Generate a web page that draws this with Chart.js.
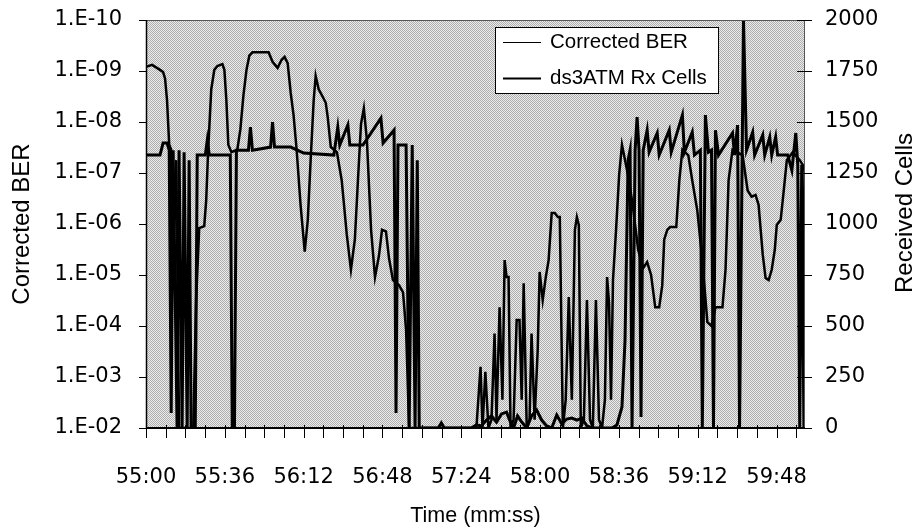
<!DOCTYPE html>
<html><head><meta charset="utf-8">
<script src="https://cdn.jsdelivr.net/npm/chart.js@4.4.1/dist/chart.umd.min.js"></script>
<style>html,body{margin:0;padding:0;background:#fff;}#wrap{width:921px;height:531px;}</style>
</head><body><div id="wrap"><canvas id="c" width="921" height="531" style="width:921px;height:531px"></canvas></div>
<script>
// ---- data (seconds after 55:00) ----
const timeLabels = ['55:00','55:36','56:12','56:48','57:24','58:00','58:36','59:12','59:48'];
const berTickValues = [1e-10,1e-9,1e-8,1e-7,1e-6,1e-5,1e-4,1e-3,1e-2];
const berTickLabels = ['1.E-10','1.E-09','1.E-08','1.E-07','1.E-06','1.E-05','1.E-04','1.E-03','1.E-02'];
const cellTickValues = [0,250,500,750,1000,1250,1500,1750,2000];
const seriesNames = ['Corrected BER','ds3ATM Rx Cells'];
const axisTitles = ['Corrected BER','Received Cells','Time (mm:ss)'];

const berTime = [0,2.8,6.4,7.8,8.7,9.6,10.6,11.5,11.9,13.8,15.1,21.6,22.9,24.3,26.6,27.5,28.4,29.8,31.2,32.6,34.9,35.8,36.7,37.6,39.0,41.7,43.1,44.5,45.9,47.2,48.6,56.0,57.8,60.1,61.9,63.3,64.7,66.1,67.4,68.8,70.6,72.5,73.9,75.2,76.6,77.5,78.9,80.7,82.1,83.0,84.4,87.2,89.4,91.7,93.6,95.4,96.8,98.2,99.5,100.9,102.8,104.6,106.4,107.8,109.6,111.0,112.8,115.6,117.4,118.8,120.2,150.9,152.8,153.7,155.0,156.4,157.8,159.2,160.1,161.5,162.8,163.8,164.7,165.6,166.5,167.9,169.3,170.6,171.6,172.5,173.9,175.2,176.1,177.5,178.9,179.8,181.2,182.6,183.9,185.3,186.7,188.1,189.0,190.4,191.7,193.1,194.5,195.9,196.8,197.7,198.6,200.0,201.4,202.8,204.1,205.5,206.9,208.3,209.6,210.6,211.5,212.4,213.3,214.7,216.1,217.4,219.7,222.0,224.8,227.1,228.9,230.7,232.6,234.4,235.8,236.7,238.1,239.4,242.2,243.6,245.0,247.7,249.5,251.8,254.1,256.4,258.3,260.1,263.3,264.7,266.1,267.9,272.5,274.8,276.6,278.4,279.8,281.7,283.0,284.4,285.8,287.2,288.1,289.9,291.3,292.7,295.4,298.6,300.0,301];
const berValue = [8.3e-10,7.6e-10,9.5e-10,1.05e-9,1.4e-9,3.7e-9,2.8e-8,3.5e-8,1.95e-5,5.6e-8,1e-2,1e-2,3.1e-5,1.2e-6,1.1e-6,3.4e-7,3.5e-8,2.3e-9,9.5e-10,8e-10,7.3e-10,9.5e-10,3.7e-9,2.8e-8,3.9e-8,3.5e-8,1.4e-8,3e-9,9.5e-10,5e-10,4.3e-10,4.3e-10,6.6e-10,8.7e-10,6.1e-10,5.3e-10,7e-10,2.7e-9,7.3e-9,3.5e-8,4.2e-7,3.5e-6,8.3e-7,5.6e-8,3.7e-9,1.25e-9,2.3e-9,3.2e-9,4.2e-9,8e-9,3.1e-8,3.9e-8,1.4e-7,1.6e-6,7.9e-6,2e-6,1.4e-7,1.1e-8,5.4e-9,2.3e-8,1.3e-6,1.1e-5,4.2e-6,1.3e-6,1.4e-6,4.7e-6,1.26e-5,1.6e-5,2.2e-5,1.2e-4,1e-2,1e-2,6.3e-4,1e-2,7.9e-4,1e-2,6.9e-3,1.4e-4,6.9e-3,4.3e-5,2.8e-3,5.1e-6,1.1e-5,1.1e-5,1e-2,6.9e-3,7.6e-5,7.6e-5,2.8e-3,1.45e-5,1e-2,6.9e-3,1.4e-4,6.9e-3,3e-4,8.7e-6,3.1e-5,1.1e-5,5.1e-6,6.1e-7,6.1e-7,7.3e-7,7.3e-7,1e-2,2.8e-3,2.7e-5,2.8e-3,1.3e-6,7.3e-7,1.05e-6,1e-2,6.9e-3,3.1e-5,6.9e-3,1e-2,3.1e-5,6.9e-3,1e-2,2.8e-3,1.1e-5,3.6e-5,2.8e-3,1.26e-5,1.3e-6,1.1e-7,2.8e-8,8.7e-8,3.4e-7,3.2e-6,7.3e-6,5.6e-6,1e-5,4.3e-5,4.3e-5,1.6e-5,2e-6,1.3e-6,1.15e-6,1.15e-6,1.4e-7,3.5e-8,4.5e-8,1.4e-7,5.4e-7,5.1e-6,8.4e-5,1e-4,4.3e-5,4.3e-5,7.9e-6,1.4e-7,3.5e-8,4.5e-8,2.2e-7,2.9e-7,2.7e-7,4.2e-7,4e-6,1.15e-5,1.26e-5,7.9e-6,3.2e-6,1.05e-6,8.3e-7,2.2e-7,5.6e-8,3.9e-8,5.6e-8,7e-8,9.5e-8];

const cellTime = [0,6.4,7.8,9.6,10.6,11.5,12.4,14.2,15.1,16.5,17.4,18.8,19.7,20.6,22.5,23.4,27.1,28.0,28.9,38.5,39.4,40.4,41.3,46.8,47.7,48.6,56.9,57.8,58.7,66.1,72.0,85.8,87.6,88.5,92.2,93.1,99.1,107.3,108.3,113.3,114.2,115.1,118.8,120.2,121.6,122.9,123.9,124.8,133.5,134.9,136.2,148.6,150.9,153.2,155.5,157.8,160.1,162.4,164.7,166.1,167.9,169.7,171.6,173.9,176.1,178.4,180.7,183.0,185.3,187.6,189.9,192.2,194.5,196.8,199.1,201.4,203.7,212.8,215.1,217.4,218.8,220.2,221.1,222.0,223.4,224.3,225.2,226.1,227.1,228.9,229.8,233.5,234.4,239.0,239.9,245.0,245.9,249.5,250.5,253.2,254.1,255.5,256.9,258.3,259.2,260.1,261.5,267.9,268.8,270.2,271.1,272.9,274.3,277.1,278.0,281.7,282.6,284.9,285.8,287.6,288.5,293.1,295.0,296.8,297.7,298.6,299.5,300.5,301];
const cellValue = [1338,1338,1397,1397,1362,74,1362,0,1362,0,1352,0,1313,0,0,1338,1338,1411,1338,1338,0,0,1362,1362,1475,1362,1377,1499,1377,1377,1348,1338,1475,1387,1485,1387,1387,1519,1397,1460,74,1387,1387,0,1387,0,1313,0,0,25,0,0,15,10,39,59,29,69,78,39,0,59,29,0,59,88,39,10,0,64,20,44,49,39,49,10,0,0,15,103,431,1313,1362,0,1362,1524,1362,54,1362,1460,1352,1446,1338,1460,1352,1534,1352,1450,1338,1362,0,1534,1352,1362,0,1460,1338,1446,1338,1485,0,2000,1362,1450,1338,1436,1338,1426,1338,1426,1338,1338,1264,1446,1289,0,1289,0,1264];

// ---- styling ----
const TICK_FONT = {family:'DejaVu Sans', size:21};
const VTITLE_FONT = {family:'Liberation Sans', size:24};
const XTITLE_FONT = {family:'Liberation Sans', size:21.5};

const decor = {
  id:'decor',
  beforeDatasetsDraw(chart){
    const {ctx, chartArea:a} = chart;
    const pc = document.createElement('canvas'); pc.width=2; pc.height=2;
    const p = pc.getContext('2d');
    p.fillStyle='#ececec'; p.fillRect(0,0,2,2);
    p.fillStyle='#adadad'; p.fillRect(0,0,1,1); p.fillRect(1,1,1,1);
    ctx.save();
    ctx.fillStyle = ctx.createPattern(pc,'repeat');
    ctx.fillRect(a.left,a.top,a.right-a.left,a.bottom-a.top);
    ctx.restore();
  },
  afterDatasetsDraw(chart){
    const {ctx, chartArea:a, scales} = chart;
    ctx.save();
    ctx.strokeStyle='#555'; ctx.lineWidth=1;
    ctx.beginPath(); ctx.moveTo(a.left,a.top+0.5); ctx.lineTo(a.right-0.5,a.top+0.5); ctx.lineTo(a.right-0.5,a.bottom); ctx.stroke();
    ctx.strokeStyle='#000'; ctx.lineWidth=1.5;
    ctx.beginPath(); ctx.moveTo(a.left+0.5,a.top); ctx.lineTo(a.left+0.5,a.bottom); ctx.stroke();
    ctx.lineWidth=2;
    ctx.beginPath(); ctx.moveTo(a.left,a.bottom); ctx.lineTo(a.right,a.bottom); ctx.stroke();
    ctx.lineWidth=1;
    const yb=scales.yBER, yc=scales.yCells, x=scales.x;
    ctx.beginPath();
    yb.ticks.forEach(t=>{const y=Math.round(yb.getPixelForValue(t.value))+0.5; ctx.moveTo(a.left-7,y); ctx.lineTo(a.left,y);});
    yc.ticks.forEach(t=>{const y=Math.round(yc.getPixelForValue(t.value))+0.5; ctx.moveTo(a.right-8,y); ctx.lineTo(a.right+7,y);});
    x.ticks.forEach(t=>{const px=Math.round(x.getPixelForValue(t.value))+0.5; ctx.moveTo(px,a.bottom-3); ctx.lineTo(px,a.bottom+10);});
    ctx.stroke();
    // right axis title (reads bottom-to-top like the left one)
    ctx.fillStyle='#000';
    ctx.font = VTITLE_FONT.size+'px "'+VTITLE_FONT.family+'"';
    ctx.textAlign='center'; ctx.textBaseline='middle';
    ctx.translate(905,213);
    ctx.rotate(-Math.PI/2);
    ctx.fillText(axisTitles[1],0,0);
    ctx.restore();
    // legend box
    ctx.save();
    const L=495,T=27,W=223,H=66;
    ctx.fillStyle='#fff'; ctx.fillRect(L,T,W,H);
    ctx.strokeStyle='#000'; ctx.lineWidth=1; ctx.strokeRect(L+0.5,T+0.5,W,H);
    ctx.font='20.5px "Liberation Sans"'; ctx.textBaseline='middle'; ctx.textAlign='left'; ctx.fillStyle='#000';
    chart.data.datasets.forEach((ds,i)=>{
      const yy = T+15+i*36;
      ctx.strokeStyle='#000'; ctx.lineWidth = i===0?1.2:2;
      ctx.beginPath(); ctx.moveTo(503,yy+0.5); ctx.lineTo(541,yy+0.5); ctx.stroke();
      ctx.fillText(ds.label, 550, yy);
    });
    ctx.restore();
  }
};

const pts = (ts,vs)=>ts.map((t,i)=>({x:t,y:vs[i]}));

new Chart(document.getElementById('c').getContext('2d'), {
  type:'line',
  data:{datasets:[
    {label:seriesNames[0], data:pts(berTime,berValue), yAxisID:'yBER', borderColor:'#000', borderWidth:2.5, pointRadius:0, tension:0},
    {label:seriesNames[1], data:pts(cellTime,cellValue), yAxisID:'yCells', borderColor:'#000', borderWidth:3, pointRadius:0, tension:0}
  ]},
  options:{
    responsive:false, animation:false, devicePixelRatio:1,
    layout:{padding:{top:20,bottom:0,left:0,right:0}},
    plugins:{legend:{display:false}, tooltip:{enabled:false}},
    scales:{
      x:{type:'linear', min:0, max:301,
        grid:{display:false, drawTicks:false}, border:{display:false},
        afterBuildTicks(s){ const a=[]; for(let v=0; v<=297; v+=9) a.push({value:v}); s.ticks=a; },
        afterFit(s){ s.height = 103; },
        ticks:{autoSkip:false, maxRotation:0, padding:37, color:'#000', font:TICK_FONT,
          callback:(v)=> (v%36===0 ? timeLabels[v/36] : '')},
        title:{display:true, text:axisTitles[2], color:'#000', font:XTITLE_FONT, padding:{top:0,bottom:2}}
      },
      yBER:{type:'logarithmic', position:'left', min:1e-10, max:1e-2, reverse:true,
        grid:{display:false, drawTicks:true, tickLength:17}, border:{display:false},
        afterBuildTicks(s){ s.ticks = berTickValues.map(v=>({value:v})); },
        afterFit(s){ s.width = 146; },
        ticks:{padding:7, color:'#000', font:TICK_FONT,
          callback:(v)=>{ const i=berTickValues.findIndex(b=>Math.abs(Math.log10(b)-Math.log10(v))<1e-6); return i>=0?berTickLabels[i]:''; }},
        title:{display:true, text:axisTitles[0], color:'#000', font:VTITLE_FONT, padding:{top:8,bottom:0}}
      },
      yCells:{type:'linear', position:'right', min:0, max:2000,
        grid:{display:false, drawTicks:true, tickLength:14}, border:{display:false},
        afterBuildTicks(s){ s.ticks = cellTickValues.map(v=>({value:v})); },
        afterFit(s){ s.width = 116; },
        ticks:{padding:6, color:'#000', font:TICK_FONT, callback:(v)=>String(v)},
        title:{display:false}
      }
    }
  },
  plugins:[decor]
});
</script></body></html>
